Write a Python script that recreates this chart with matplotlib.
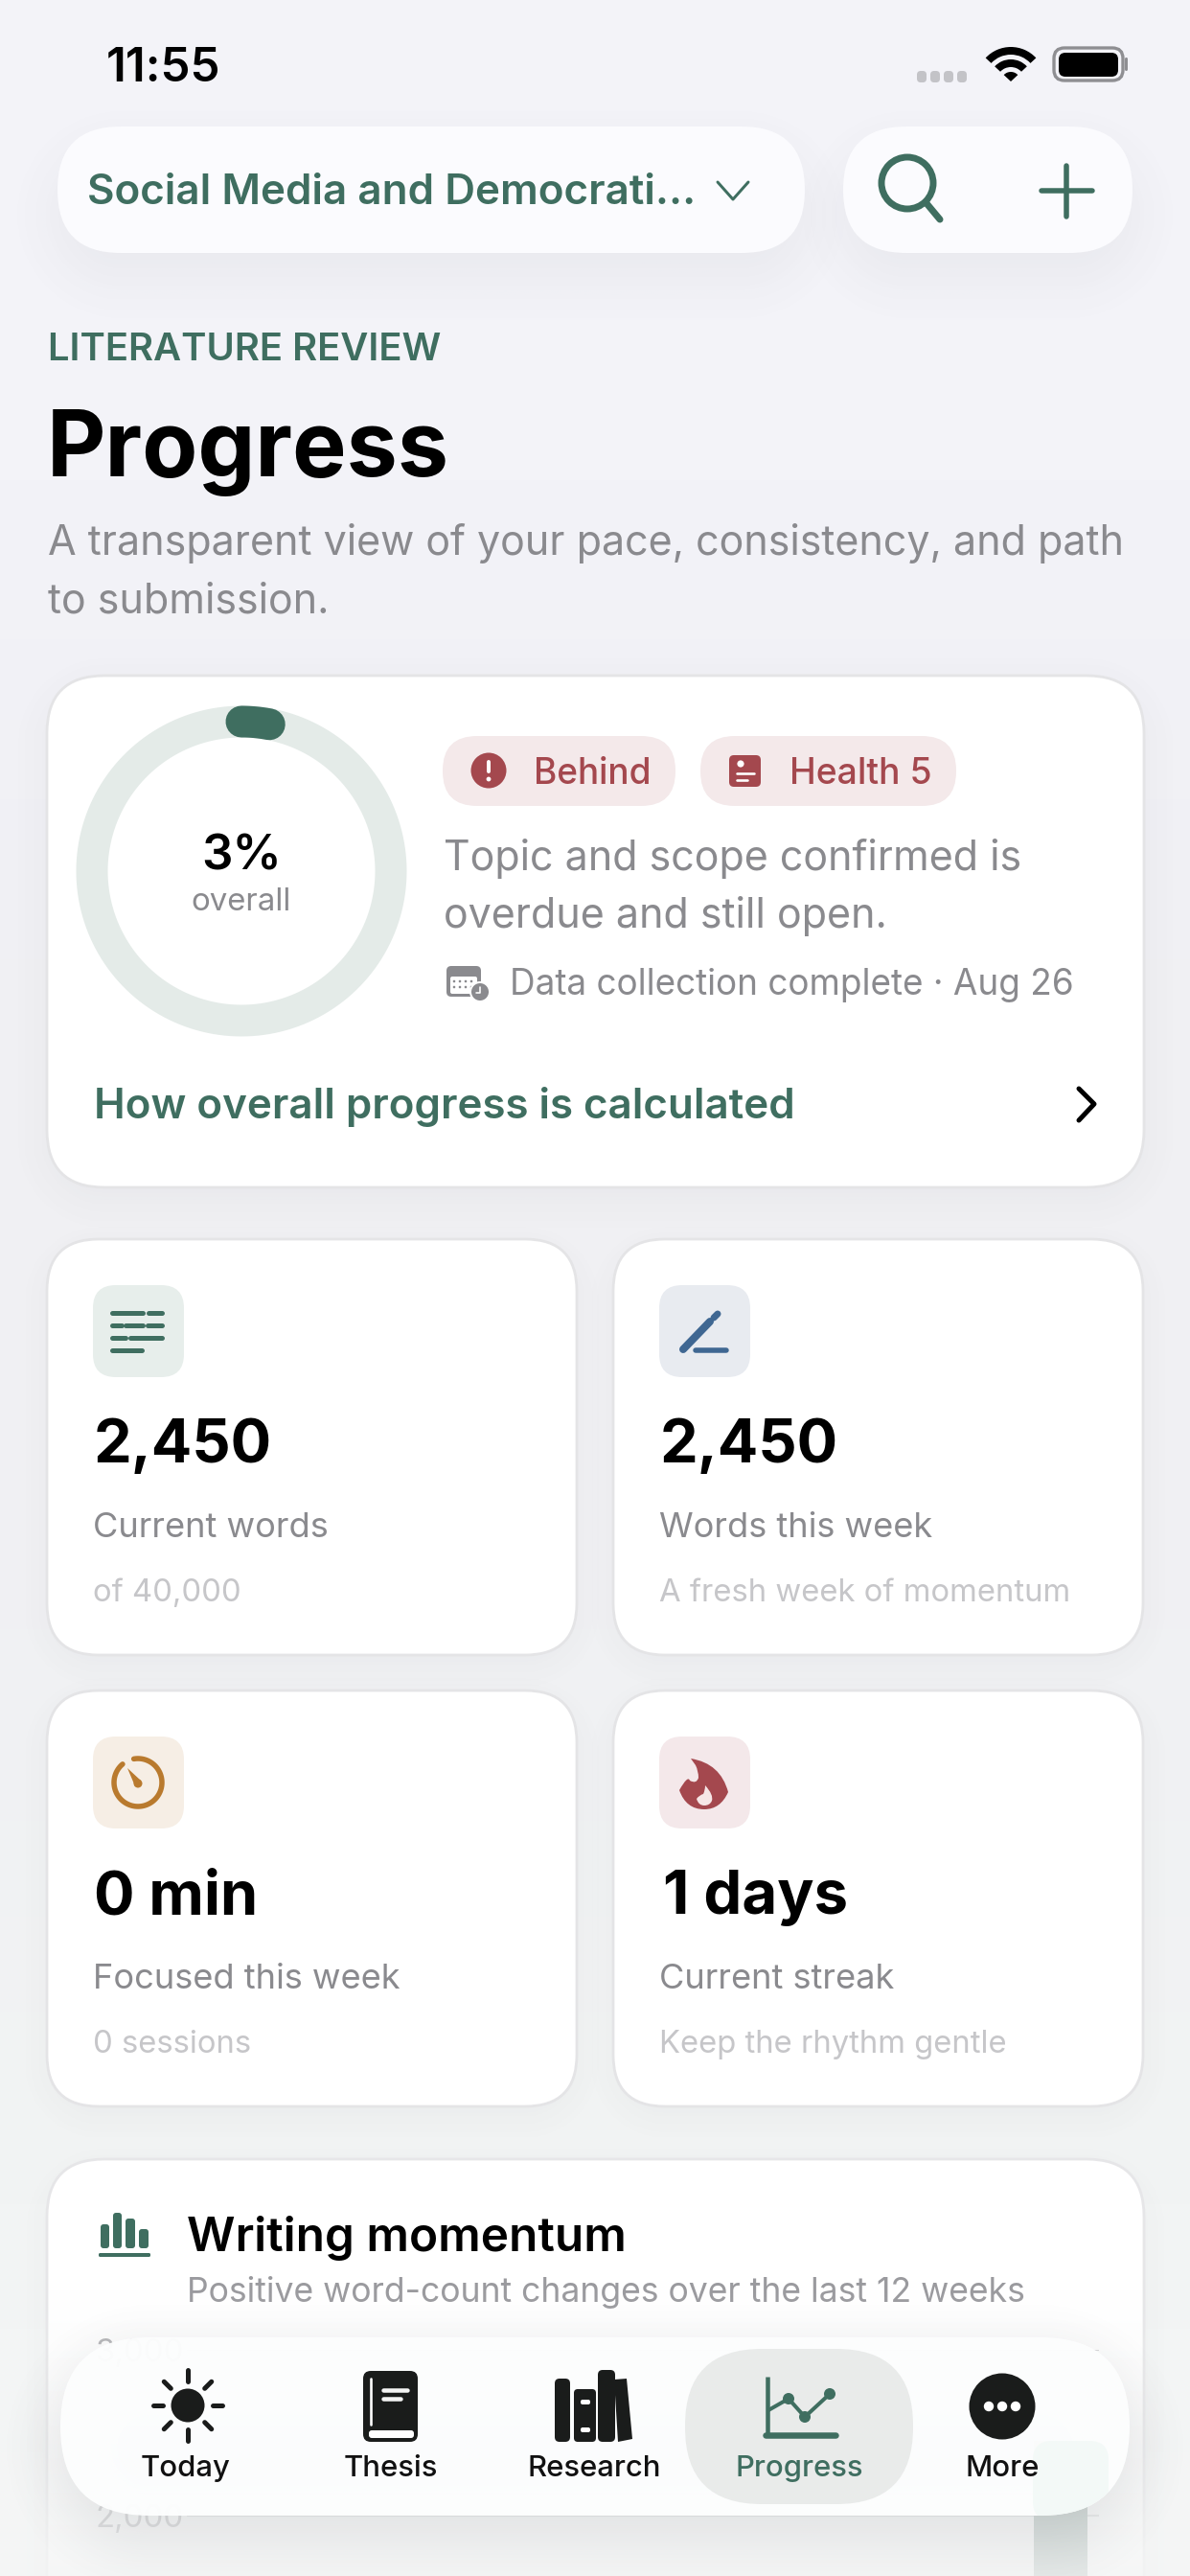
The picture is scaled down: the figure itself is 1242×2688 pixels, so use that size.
"""
Progress screen of a thesis app, drawn in pixel coordinates.
"""
import numpy as np
import matplotlib
matplotlib.use('Agg')
import matplotlib.pyplot as plt
from matplotlib.patches import FancyBboxPatch, Circle, Wedge, PathPatch, Polygon
from matplotlib.path import Path

W, H = 1242, 2688

GREEN = '#3f6e60'
RED = '#a4484e'
GREY = '#8a8a8e'
LIGHT = '#c6c6c9'
DARK = '#1a1c1b'

overall_percent = 3
track_percent = 100

stat_values = ['2,450', '2,450', '0 min', '1 days']
stat_labels = ['Current words', 'Words this week', 'Focused this week', 'Current streak']
stat_notes = ['of 40,000', 'A fresh week of momentum', '0 sessions', 'Keep the rhythm gentle']
tile_colors = ['#e7eeeb', '#e8ebf0', '#f6eee5', '#f4e8ea']

week_index = list(range(12))
week_words = [0, 0, 0, 0, 0, 0, 0, 0, 0, 0, 0, 2450]
y_ticks = [2000, 3000]
y_tick_labels = ['2,000', '3,000']

tab_names = ['Today', 'Thesis', 'Research', 'Progress', 'More']
tab_centers = [194, 408, 620, 834, 1046]

plt.rcParams['font.family'] = ['Inter', 'DejaVu Sans']

fig = plt.figure(figsize=(W / 100, H / 100), dpi=100)


def pixel_axes(z):
    a = fig.add_axes([0, 0, 1, 1], zorder=z)
    a.set_xlim(0, W)
    a.set_ylim(H, 0)
    a.axis('off')
    a.patch.set_alpha(0)
    return a


ax = pixel_axes(0)
top = pixel_axes(2)


def box(a, x0, y0, x1, y1, r, fc, ec='none', lw=0, alpha=None, z=2):
    p = FancyBboxPatch((x0, y0), x1 - x0, y1 - y0,
                       boxstyle='round,pad=0,rounding_size=%g' % r,
                       fc=fc, ec=ec, lw=lw, alpha=alpha, zorder=z)
    a.add_patch(p)
    return p


def shadow(a, x0, y0, x1, y1, r, blur, dy, alpha, z=1):
    # soft shadow from the distance to a rounded rectangle
    xs = np.arange(x0 - blur, x1 + blur, 2.0)
    ys = np.arange(y0 - blur + dy, y1 + blur + dy, 2.0)
    gx, gy = np.meshgrid(xs, ys)
    qx = np.abs(gx - (x0 + x1) / 2) - (x1 - x0) / 2 + r
    qy = np.abs(gy - dy - (y0 + y1) / 2) - (y1 - y0) / 2 + r
    d = np.hypot(np.maximum(qx, 0), np.maximum(qy, 0)) + np.minimum(np.maximum(qx, qy), 0) - r
    s = np.clip(0.5 - d / (2 * blur), 0, 1)
    img = np.zeros(gx.shape + (4,))
    img[:, :, :3] = np.array([90, 95, 102]) / 255
    img[:, :, 3] = alpha * s * s * (3 - 2 * s)
    a.imshow(img, extent=(xs[0], xs[-1], ys[-1], ys[0]), aspect='auto', zorder=z)


def text(a, x, y, s, px, color, weight='normal', ha='left', va='baseline'):
    return a.text(x, y, s, fontsize=px * 0.72, color=color, fontweight=weight,
                  ha=ha, va=va, zorder=5)


def line(a, xs, ys, color, px, cap='round', z=4):
    a.plot(xs, ys, color=color, lw=px * 0.72, solid_capstyle=cap,
           solid_joinstyle='round', zorder=z)


# page background
stops_y = [0, 500, 1000, 1700, 2300, 2688]
stops_c = np.array([[243, 243, 248], [243, 243, 248], [240, 240, 244],
                    [240, 241, 243], [242, 244, 244], [245, 247, 247]]) / 255
yy = np.arange(H)
grad = np.stack([np.interp(yy, stops_y, stops_c[:, i]) for i in range(3)], axis=1)
ax.imshow(grad[:, None, :], extent=(0, W, H, 0), aspect='auto', zorder=0)

# status bar
text(ax, 111, 85, '11:55', 49.5, 'black', 'semibold')
for x in [962, 976, 990, 1004]:
    box(ax, x - 5, 74, x + 5, 86, 4, '#c3c3c7')
for r, w in [(36, 8), (23, 8)]:
    ax.add_patch(Wedge((1055, 85), r, -137, -43, width=w, fc='black', zorder=4))
ax.add_patch(Wedge((1055, 85), 10, -137, -43, fc='black', zorder=4))
box(ax, 1100, 50, 1172, 84, 11, 'none', ec='#8e8e92', lw=2.4, z=4)
box(ax, 1105, 55, 1167, 80, 7, 'black', z=4)
box(ax, 1174, 60, 1177, 74, 1.5, '#8e8e92', z=4)

# top pills
shadow(ax, 60, 132, 840, 264, 66, 60, 26, 0.07)
shadow(ax, 880, 132, 1182, 264, 66, 60, 26, 0.07)
box(ax, 60, 132, 840, 264, 66, '#fbfbfe')
box(ax, 880, 132, 1182, 264, 66, '#fbfbfe')
text(ax, 91, 213, 'Social Media and Democrati...', 44, GREEN, 'semibold')
line(ax, [749, 765, 781], [190, 208, 190], GREEN, 3)
ax.add_patch(Circle((947, 191), 27, fc='none', ec=GREEN, lw=5, zorder=4))
line(ax, [966, 981], [211, 229], GREEN, 7)
line(ax, [1113, 1113], [173, 226], GREEN, 5.5)
line(ax, [1087, 1140], [199, 199], GREEN, 5.5)

# page heading
text(ax, 50, 376, 'LITERATURE REVIEW', 40, GREEN, 'semibold')
text(ax, 49, 497, 'Progress', 95, 'black', 'bold')
text(ax, 50, 579, 'A transparent view of your pace, consistency, and path', 43, GREY)
text(ax, 50, 640, 'to submission.', 43, GREY)

# overall card
shadow(ax, 49, 705, 1194, 1239, 60, 45, 12, 0.06)
box(ax, 49, 705, 1194, 1239, 60, 'white', ec='#e4e4e6', lw=2)

cx, cy, ring_r = 252, 909, 156
t = np.linspace(0, 2 * np.pi * track_percent / 100, 361)
line(ax, cx + ring_r * np.sin(t), cy - ring_r * np.cos(t), '#e4ebe8', 33)
t = np.linspace(0, 2 * np.pi * overall_percent / 100, 30)
line(ax, cx + ring_r * np.sin(t), cy - ring_r * np.cos(t), GREEN, 33)
text(ax, cx, 908, '%d%%' % overall_percent, 51, 'black', 'semibold', ha='center')
text(ax, cx, 950, 'overall', 33, GREY, ha='center')

box(ax, 462, 768, 705, 841, 36, '#f4e9ea')
box(ax, 731, 768, 998, 841, 36, '#f4e9ea')
ax.add_patch(Circle((510, 804), 18.5, fc=RED, zorder=4))
line(ax, [510, 510], [795, 805], 'white', 4)
ax.add_patch(Circle((510, 813), 2.4, fc='white', zorder=5))
box(ax, 761, 788, 794, 821, 5, RED, z=4)
ax.add_patch(Circle((773, 797), 3.6, fc='white', zorder=5))
line(ax, [769, 787], [807, 807], 'white', 2.6, z=5)
line(ax, [769, 780], [814, 814], 'white', 2.6, z=5)
text(ax, 557, 818, 'Behind', 37, RED, 'medium')
text(ax, 824, 818, 'Health 5', 37.3, RED, 'medium')

text(ax, 463, 908, 'Topic and scope confirmed is', 43, GREY)
text(ax, 463, 968, 'overdue and still open.', 43, GREY)

box(ax, 466, 1008, 502, 1040, 5, GREY, z=4)
box(ax, 470, 1019, 498, 1037, 2, 'white', z=5)
for gx in [474, 480, 486, 492]:
    for gy in [1024, 1030]:
        ax.add_patch(Circle((gx, gy), 1.3, fc=GREY, zorder=6))
ax.add_patch(Circle((501, 1035), 10, fc=GREY, ec='white', lw=1.4, zorder=6))
line(ax, [501, 501, 497], [1030, 1036, 1036], 'white', 1.6, z=7)
text(ax, 532, 1038, 'Data collection complete · Aug 26', 36.9, GREY)

text(ax, 98, 1167, 'How overall progress is calculated', 43.9, GREEN, 'semibold')
line(ax, [1126, 1142, 1126], [1136, 1152, 1169], 'black', 5)

# stat cards
card_x = [(49, 602), (640, 1193), (49, 602), (640, 1193)]
card_y = [1293, 1293, 1764, 1764]
for i in range(4):
    x0, x1 = card_x[i]
    y0 = card_y[i]
    shadow(ax, x0, y0, x1, y0 + 434, 54, 36, 10, 0.05)
    box(ax, x0, y0, x1, y0 + 434, 54, 'white', ec='#e4e4e6', lw=2)
    box(ax, x0 + 48, y0 + 48, x0 + 143, y0 + 144, 24, tile_colors[i], z=3)
    text(ax, x0 + (52 if i == 3 else 49), y0 + 233, stat_values[i], 63.5 if i == 3 else 63, 'black', 'bold')
    text(ax, x0 + 48, y0 + 311, stat_labels[i], 36.2, GREY)
    text(ax, x0 + 48, y0 + 378, stat_notes[i], 32.8, LIGHT)

# tile icons
dashes = [(1370, [(117, 149), (155, 169)]),
          (1383, [(117, 127), (131, 149), (154, 169)]),
          (1396, [(117, 131), (136, 169)]),
          (1409, [(117, 148)])]
for dy, segs in dashes:
    for a0, a1 in segs:
        line(ax, [a0, a1], [dy, dy], GREEN, 5)

PEN = '#3f6792'
line(ax, [713, 741], [1408, 1379], PEN, 8)
line(ax, [745, 749], [1375, 1371], PEN, 7)
line(ax, [726, 758], [1409, 1409], PEN, 5.5)

TIMER = '#b97a2e'
t = np.radians(np.linspace(-10, 320, 80))
line(ax, 144 + 25 * np.sin(t), 1860 - 25 * np.cos(t), TIMER, 5.5)
ax.add_patch(Polygon([[133, 1845], [147, 1858], [141, 1864]], fc=TIMER, zorder=4))
ax.add_patch(Circle((144, 1861), 4.5, fc=TIMER, zorder=4))

flame = Path([(721, 1835), (752, 1840), (760, 1870), (752, 1888), (735, 1888), (716, 1888),
              (709, 1868), (718, 1852), (720, 1858), (727, 1862), (729, 1855), (729, 1848),
              (726, 1842), (721, 1835), (721, 1835)],
             [Path.MOVETO, Path.CURVE3, Path.CURVE3, Path.CURVE3, Path.CURVE3, Path.CURVE3,
              Path.CURVE3, Path.CURVE3, Path.CURVE3, Path.CURVE3, Path.CURVE3, Path.CURVE3,
              Path.CURVE3, Path.CURVE3, Path.CLOSEPOLY])
ax.add_patch(PathPatch(flame, fc=RED, ec='none', zorder=4))
inner = Path([(736, 1863), (745, 1873), (743, 1879), (741, 1884), (735, 1884), (729, 1884),
              (727, 1877), (730, 1873), (734, 1872), (736, 1868), (736, 1863), (736, 1863)],
             [Path.MOVETO, Path.CURVE3, Path.CURVE3, Path.CURVE3, Path.CURVE3, Path.CURVE3,
              Path.CURVE3, Path.CURVE3, Path.CURVE3, Path.CURVE3, Path.CURVE3, Path.CLOSEPOLY])
ax.add_patch(PathPatch(inner, fc='#f6e6e6', ec='none', zorder=5))

# momentum card
shadow(ax, 49, 2253, 1194, 2760, 60, 36, 10, 0.04)
box(ax, 49, 2253, 1194, 2760, 60, 'white', ec='#e6e6e8', lw=2)
for bx0, bx1, by in [(105, 114, 2321), (118, 127, 2309), (131, 141, 2315), (145, 155, 2326)]:
    box(ax, bx0, by, bx1, 2346, 3, GREEN, z=4)
box(ax, 103, 2351, 157, 2355, 1.5, GREEN, z=4)
text(ax, 195, 2349, 'Writing momentum', 49.5, 'black', 'semibold')
text(ax, 195, 2402, 'Positive word-count changes over the last 12 weeks', 35.6, '#9a9a9e')

# bar chart, sits between the page and the floating tab bar
plot_left, plot_right = 195, 1147
y_top, y_zero = 2452, 2971
chart = fig.add_axes([plot_left / W, (H - y_zero) / H, (plot_right - plot_left) / W,
                      (y_zero - y_top) / H], zorder=1)
chart.patch.set_alpha(0)
chart.bar(week_index, week_words, width=0.71, color='#95a9a2', zorder=2)
chart.set_xlim(-0.5, 11.5)
chart.set_ylim(0, 3000)
chart.set_xticks([])
chart.set_yticks(y_ticks)
chart.set_yticklabels(y_tick_labels, fontsize=33 * 0.72, color='#adadb0')
chart.tick_params(axis='y', length=0, pad=2)
chart.grid(axis='y', color='#d4d4d6', lw=1.5, zorder=1)
chart.set_axisbelow(True)
for s in chart.spines.values():
    s.set_visible(False)

# wash over the lower part of the screen
fade = np.ones((300, 1, 4))
fade[:, :, :3] = [0.957, 0.962, 0.962]
fade[:, 0, 3] = np.linspace(0, 0.85, 300)
top.imshow(fade, extent=(0, W, 2688, 2388), aspect='auto', zorder=1)

# floating tab bar
shadow(top, 63, 2439, 1179, 2625, 93, 70, 22, 0.16, z=1.5)
nav = box(top, 63, 2439, 1179, 2625, 93, '#fdfefe', alpha=0.97)
glow = box(top, 1078, 2547, 1157, 2630, 20, '#f3f9f7', z=2.5)
glow.set_clip_path(nav)
box(top, 715, 2451, 953, 2613, 80, '#e9ebea', z=3)
for name, tx in zip(tab_names, tab_centers):
    text(top, tx, 2584, name, 31, GREEN if name == 'Progress' else '#111111', 'medium', ha='center')

# sun
top.add_patch(Circle((196, 2510), 17.5, fc=DARK, zorder=4))
for ang in range(0, 360, 45):
    a = np.radians(ang)
    r0, r1 = (26, 36) if ang % 90 == 0 else (25, 35)
    if ang in (0, 180):
        r0, r1 = 25, 37
    line(top, [196 + r0 * np.sin(a), 196 + r1 * np.sin(a)],
         [2510 - r0 * np.cos(a), 2510 - r1 * np.cos(a)], DARK, 5)

# book
box(top, 379, 2474, 436, 2548, 8, DARK, z=4)
line(top, [387, 387], [2482, 2530], 'white', 2.6, z=5)
line(top, [400, 425], [2494, 2494], '#f4f4f4', 4.5, z=5)
line(top, [400, 418], [2503, 2503], '#f4f4f4', 4.5, z=5)
box(top, 385, 2536, 432, 2544, 3, 'white', z=5)

# books
box(top, 579, 2482, 595, 2548, 5, DARK, z=4)
box(top, 599, 2493, 622, 2548, 4, DARK, z=4)
box(top, 624, 2473, 642, 2548, 5, DARK, z=4)
top.add_patch(Polygon([[641, 2483], [654, 2482], [660, 2545], [645, 2548]], fc=DARK, zorder=4))
box(top, 606, 2504, 616, 2509, 2, 'white', z=5)
box(top, 606, 2533, 616, 2538, 2, 'white', z=5)

# progress icon
line(top, [801, 801], [2480, 2541], GREEN, 4.5, cap='butt')
line(top, [799, 872], [2541, 2541], GREEN, 6.5)
line(top, [802, 823, 840, 866], [2515, 2503, 2522, 2498], GREEN, 4)
for px_, py_ in [(823, 2503), (840, 2522), (866, 2498)]:
    top.add_patch(Circle((px_, py_), 6, fc=GREEN, zorder=5))

# more
top.add_patch(Circle((1046, 2511), 34.5, fc=DARK, zorder=4))
for dx in [-14, 0, 14]:
    top.add_patch(Circle((1046 + dx, 2511), 5.2, fc='white', zorder=5))

fig.savefig('out.png', dpi=100)
